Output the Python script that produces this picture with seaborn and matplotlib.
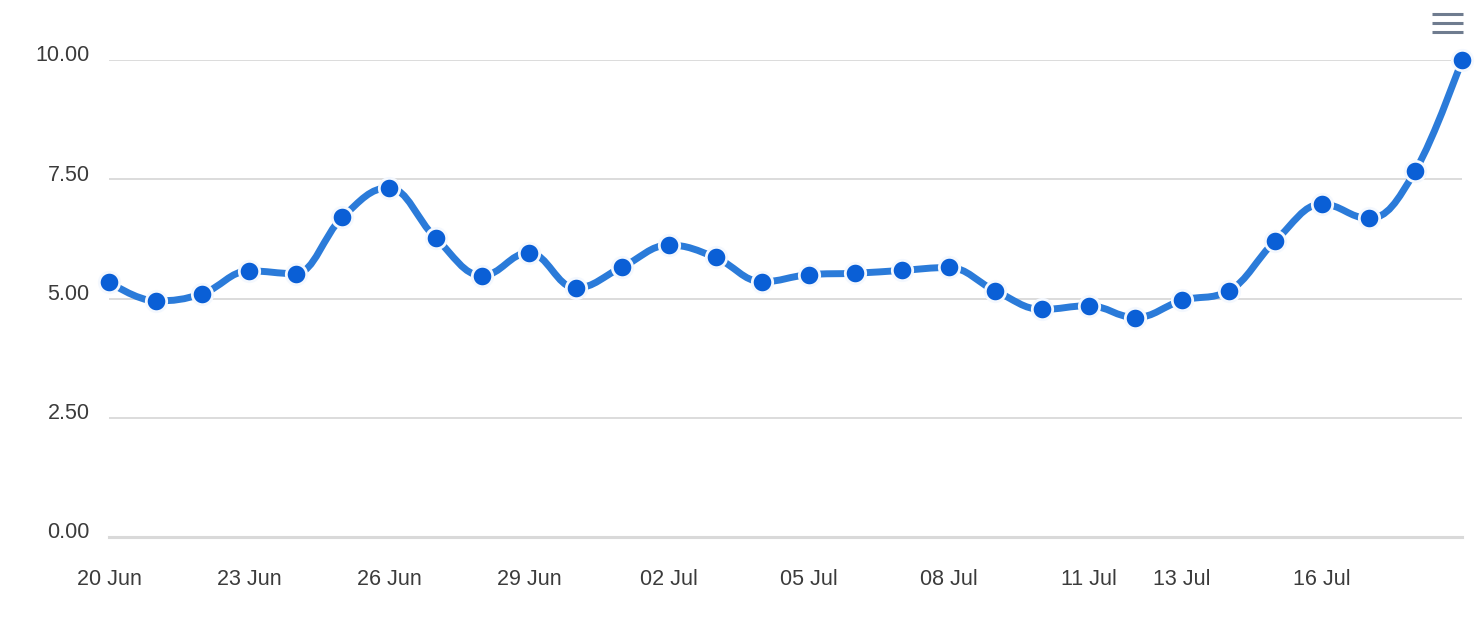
import numpy as np
import pandas as pd
import matplotlib
matplotlib.use("Agg")
import matplotlib.pyplot as plt
import matplotlib.dates as mdates
import matplotlib.transforms as mtransforms
from matplotlib.path import Path
from matplotlib.patches import PathPatch
from matplotlib.lines import Line2D
import seaborn as sns

# ---------------- data ----------------
dates = pd.date_range("2024-06-20", "2024-07-19", freq="D")
values = [5.35, 4.95, 5.10, 5.58, 5.52, 6.70, 7.32, 6.27, 5.48, 5.96,
          5.22, 5.66, 6.12, 5.86, 5.35, 5.50, 5.53, 5.59, 5.65, 5.16,
          4.77, 4.85, 4.60, 4.96, 5.16, 6.21, 6.98, 6.68, 7.68, 10.00]
tick_dates = ["2024-06-20", "2024-06-23", "2024-06-26", "2024-06-29", "2024-07-02",
              "2024-07-05", "2024-07-08", "2024-07-11", "2024-07-13", "2024-07-16"]
tick_labels = ["20 Jun", "23 Jun", "26 Jun", "29 Jun", "02 Jul",
               "05 Jul", "08 Jul", "11 Jul", "13 Jul", "16 Jul"]
y_ticks = [0, 2.5, 5, 7.5, 10]
y_tick_labels = ["0.00", "2.50", "5.00", "7.50", "10.00"]

df = pd.DataFrame({"date": dates, "value": values})

# ---------------- style ----------------
sns.set_theme(style="white")
plt.rcParams["font.family"] = ["Liberation Sans", "DejaVu Sans"]

LINE_C = "#2b7bd9"
MARK_C = "#0a5fd6"
TEXT_C = "#3b3b3b"
GRID_C = "#d9d9d9"

W, H = 1482, 632
fig = plt.figure(figsize=(W / 100, H / 100), dpi=100)
ax = fig.add_axes([109 / W, 95 / H, 1353 / W, 477 / H])

x = mdates.date2num(df["date"])
y = np.asarray(df["value"], dtype=float)


def spline_path(xs, ys, smoothing=1.5):
    """Highcharts-like spline control points."""
    verts = [(xs[0], ys[0])]
    codes = [Path.MOVETO]
    n = len(xs)
    ctrl = []
    for i in range(n):
        if i == 0 or i == n - 1:
            ctrl.append(((xs[i], ys[i]), (xs[i], ys[i])))
            continue
        lx, ly = xs[i - 1], ys[i - 1]
        nx, ny = xs[i + 1], ys[i + 1]
        px, py = xs[i], ys[i]
        d = smoothing + 1
        lcx = (smoothing * px + lx) / d
        lcy = (smoothing * py + ly) / d
        rcx = (smoothing * px + nx) / d
        rcy = (smoothing * py + ny) / d
        if rcx != lcx:
            corr = ((rcy - lcy) * (rcx - px)) / (rcx - lcx) + py - rcy
            lcy += corr
            rcy += corr
        if lcy > ly and lcy > py:
            lcy = max(ly, py); rcy = 2 * py - lcy
        elif lcy < ly and lcy < py:
            lcy = min(ly, py); rcy = 2 * py - lcy
        if rcy > ny and rcy > py:
            rcy = max(ny, py); lcy = 2 * py - rcy
        elif rcy < ny and rcy < py:
            rcy = min(ny, py); lcy = 2 * py - rcy
        ctrl.append(((lcx, lcy), (rcx, rcy)))
    for i in range(1, n):
        c1 = ctrl[i - 1][1]
        c2 = ctrl[i][0]
        verts += [c1, c2, (xs[i], ys[i])]
        codes += [Path.CURVE4] * 3
    return Path(verts, codes)


# grid lines
for yt in y_ticks[1:]:
    ax.axhline(yt, color=GRID_C, lw=1.3, zorder=0)

# smooth line
patch = PathPatch(spline_path(x, y), facecolor="none", edgecolor=LINE_C,
                  lw=5.0, capstyle="round", joinstyle="round", zorder=2, clip_on=False)
ax.add_patch(patch)

# markers via seaborn
sns.scatterplot(data=df, x=x, y="value", ax=ax, s=215, color=MARK_C,
                edgecolor="#f4f8fe", linewidth=2.0, zorder=3, clip_on=False, legend=False)

ax.set_xlim(x[0], x[-1])
ax.set_ylim(0, 10)

ax.set_yticks(y_ticks)
ax.set_yticklabels(y_tick_labels)
ax.set_xticks(mdates.date2num(pd.to_datetime(tick_dates)))
ax.set_xticklabels(tick_labels)

ax.tick_params(axis="y", length=0, pad=14, labelsize=15.5, labelcolor=TEXT_C)
ax.tick_params(axis="x", length=8, width=1, color="#d0d0d0", direction="out",
               pad=15, labelsize=15.5, labelcolor=TEXT_C)
offset = mtransforms.ScaledTranslation(0, 3 / 72, fig.dpi_scale_trans)
for lab in ax.get_yticklabels():
    lab.set_verticalalignment("center")
    lab.set_transform(lab.get_transform() + offset)

for s in ["top", "right", "left"]:
    ax.spines[s].set_visible(False)
ax.spines["bottom"].set_color("#d9d9d9")
ax.spines["bottom"].set_linewidth(2.2)
ax.set_xlabel("")
ax.set_ylabel("")
ax.grid(False)

# menu icon
for yy in [14, 23, 32]:
    fig.add_artist(Line2D([1432 / W, 1463 / W], [1 - yy / H, 1 - yy / H],
                          transform=fig.transFigure, color="#6f7c8f", lw=2.2,
                          solid_capstyle="butt"))

fig.savefig("out.png", dpi=100)
